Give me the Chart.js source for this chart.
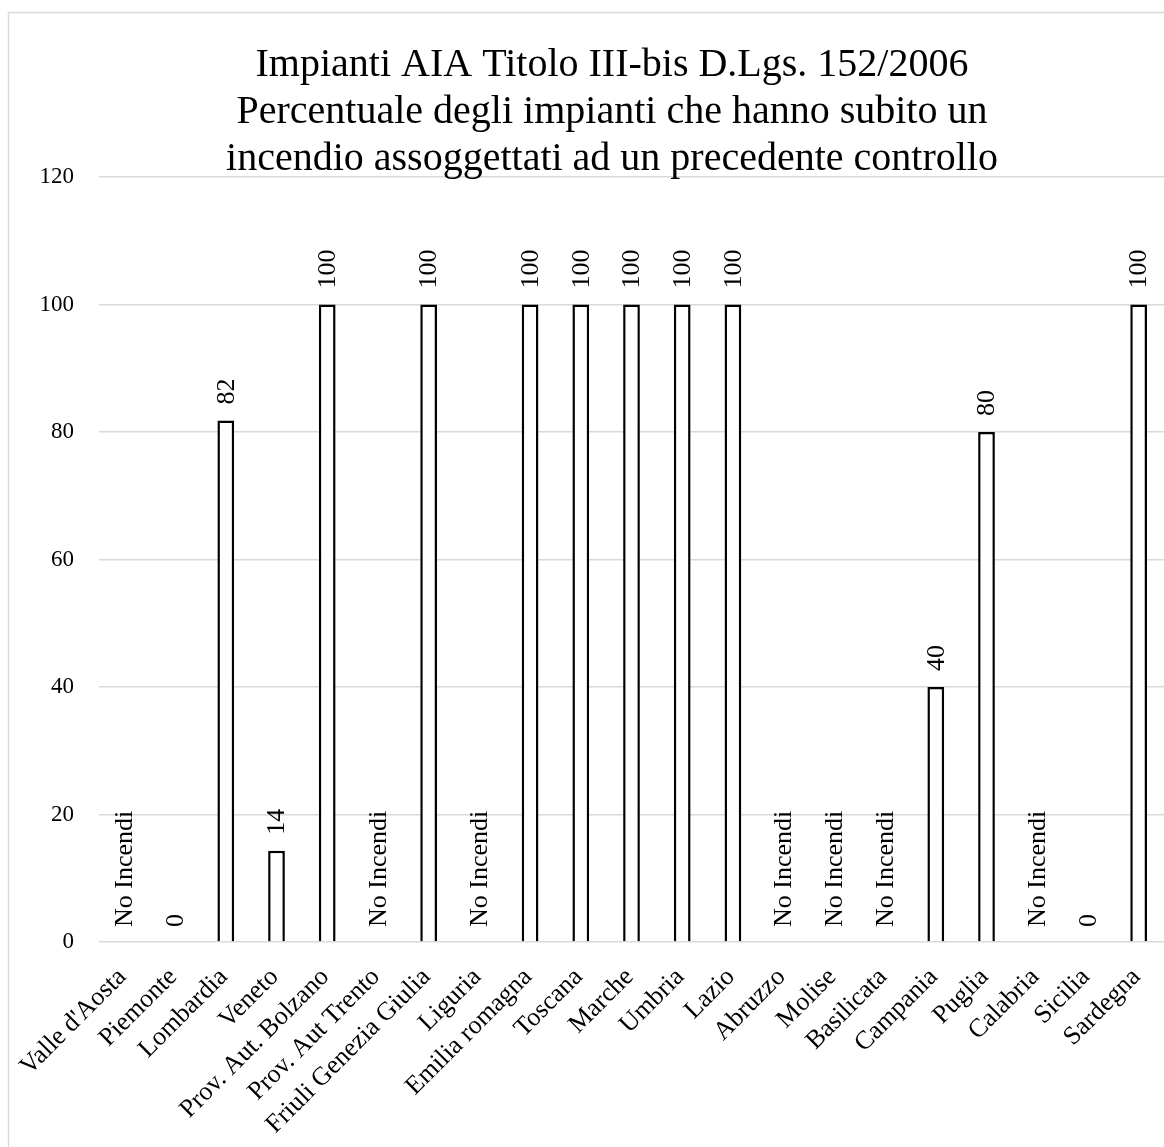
<!DOCTYPE html>
<html>
<head>
<meta charset="utf-8">
<script src="https://cdn.jsdelivr.net/npm/chart.js@4/dist/chart.umd.min.js"></script>
<style>
  html, body { margin: 0; padding: 0; background: #fff; }
  #wrap { width: 1164px; height: 1147px; }
</style>
</head>
<body>
<div id="wrap"><canvas id="incendiChart" width="1164" height="1147"></canvas></div>
<script>
// Chart data
const titleLines = [
    'Impianti AIA Titolo III-bis D.Lgs. 152/2006',
    'Percentuale degli impianti che hanno subito un',
    'incendio assoggettati ad un precedente controllo'
];
const regions = ["Valle d'Aosta", 'Piemonte', 'Lombardia', 'Veneto', 'Prov. Aut. Bolzano', 'Prov. Aut Trento',
    'Friuli Genezia Giulia', 'Liguria', 'Emilia romagna', 'Toscana', 'Marche', 'Umbria', 'Lazio', 'Abruzzo',
    'Molise', 'Basilicata', 'Campania', 'Puglia', 'Calabria', 'Sicilia', 'Sardegna'];
// null = no fires in that region
const percentuali = [null, 0, 81.8, 14.3, 100, null, 100, null, 100, 100, 100, 100, 100, null, null, null, 40, 80, null, 0, 100];
const noDataText = 'No Incendi';
const yTicks = [0, 20, 40, 60, 80, 100, 120];

const FONT = "'Liberation Serif', 'Times New Roman', serif";

// frame + title, drawn on the canvas
const framePlugin = {
    id: 'frame',
    beforeDraw(chart) {
        const ctx = chart.ctx;
        ctx.save();
        ctx.fillStyle = '#fff';
        ctx.fillRect(0, 0, chart.width, chart.height);
        ctx.strokeStyle = '#d9d9d9';
        ctx.lineWidth = 1.5;
        ctx.strokeRect(8.5, 12.5, chart.width + 20, chart.height + 20);
        ctx.restore();
    },
    afterDraw(chart) {
        const ctx = chart.ctx;
        ctx.save();
        ctx.fillStyle = '#000';
        ctx.font = '40px ' + FONT;
        ctx.textAlign = 'center';
        ctx.textBaseline = 'alphabetic';
        titleLines.forEach((line, i) => {
            ctx.fillText(line, 612, 76 + i * 47);
        });
        ctx.restore();
    }
};

// vertical value labels above the bars
const valueLabels = {
    id: 'valueLabels',
    afterDatasetsDraw(chart) {
        const ctx = chart.ctx;
        const xs = chart.scales.x;
        const ys = chart.scales.y;
        ctx.save();
        ctx.fillStyle = '#000';
        ctx.font = '26px ' + FONT;
        ctx.textAlign = 'left';
        ctx.textBaseline = 'middle';
        percentuali.forEach((v, i) => {
            const x = xs.getPixelForValue(i);
            const text = v === null ? noDataText : String(Math.round(v));
            const y = ys.getPixelForValue(v === null ? 0 : v) - (v ? 16 : 15);
            ctx.save();
            ctx.translate(x, y);
            ctx.rotate(-Math.PI / 2);
            ctx.fillText(text, 0, 1);
            ctx.restore();
        });
        ctx.restore();
    }
};

const ctx = document.getElementById('incendiChart').getContext('2d');
const chart = new Chart(ctx, {
    type: 'bar',
    data: {
        labels: regions,
        datasets: [{
            data: percentuali,
            backgroundColor: '#ffffff',
            borderColor: '#000000',
            borderWidth: 2.5,
            barPercentage: 0.33,
            categoryPercentage: 1
        }]
    },
    options: {
        responsive: false,
        animation: false,
        layout: { padding: { top: 177, left: 0, right: 0, bottom: 0 } },
        plugins: {
            legend: { display: false },
            title: { display: false },
            tooltip: { enabled: false }
        },
        scales: {
            x: {
                grid: { display: false },
                border: { display: false },
                ticks: {
                    autoSkip: false,
                    minRotation: 45,
                    maxRotation: 45,
                    padding: 12,
                    labelOffset: -2,
                    color: '#000',
                    font: { family: FONT, size: 26 }
                },
                afterFit(scale) {
                    scale.height = 205;
                    scale.paddingLeft = 0;
                    scale.paddingRight = 0;
                }
            },
            y: {
                min: 0,
                max: 120,
                afterBuildTicks(scale) { scale.ticks = yTicks.map(v => ({ value: v })); },
                grid: { color: '#d9d9d9', lineWidth: 1.5, drawTicks: false },
                border: { display: false },
                ticks: {
                    padding: 25,
                    color: '#000',
                    font: { family: FONT, size: 23 }
                },
                afterFit(scale) { scale.width = 99; }
            }
        }
    },
    plugins: [framePlugin, valueLabels]
});
</script>
</body>
</html>
